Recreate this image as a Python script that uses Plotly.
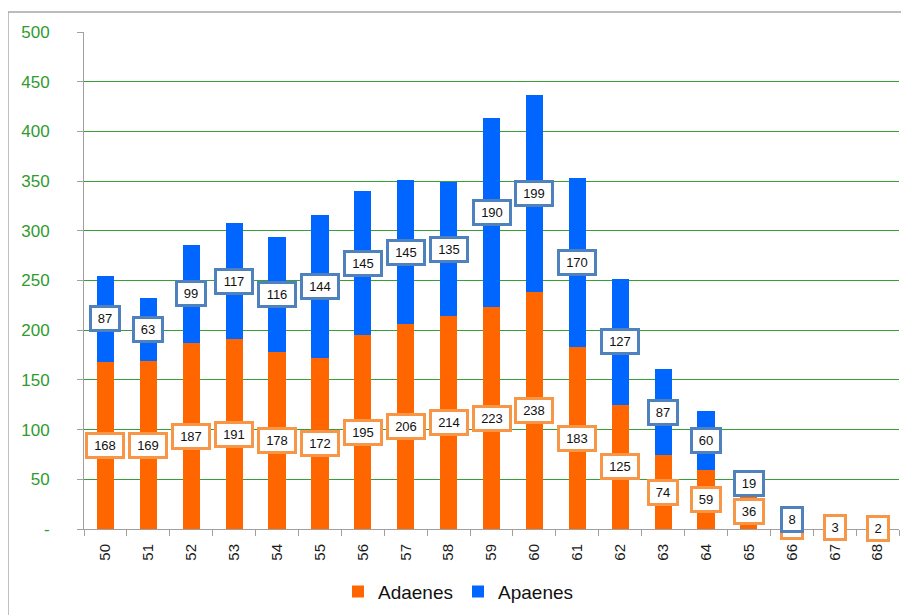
import plotly.graph_objects as go

categories = [str(c) for c in range(50, 69)]
adaenes = [168, 169, 187, 191, 178, 172, 195, 206, 214, 223, 238, 183, 125, 74, 59, 36, 6, 3, 2]
apaenes = [87, 63, 99, 117, 116, 144, 145, 145, 135, 190, 199, 170, 127, 87, 60, 19, 8, 0, 0]
ytick_vals = [0, 50, 100, 150, 200, 250, 300, 350, 400, 450, 500]
ytick_text = ["-", "50", "100", "150", "200", "250", "300", "350", "400", "450", "500"]

ORANGE = "#FF6600"
BLUE = "#0066FF"
ORANGE_BORDER = "#F79646"
BLUE_BORDER = "#4F81BD"
GREEN = "#2f9a2f"
FONT = "Liberation Sans"

fig = go.Figure()
fig.add_trace(go.Bar(x=categories, y=adaenes, name="Adaenes", marker_color=ORANGE,
                     marker_line_width=0))
fig.add_trace(go.Bar(x=categories, y=apaenes, name="Apaenes", marker_color=BLUE,
                     marker_line_width=0))

annotations = []
def box(i, y, val, border):
    n = len(str(val))
    return dict(x=i, y=y, text=str(val), showarrow=False, xref="x", yref="y",
                font=dict(family=FONT, size=13, color="#111111"),
                bgcolor="white", bordercolor=border, borderwidth=3, borderpad=2,
                width=8 * n + 6, height=17, align="center", valign="middle")

for i, a in enumerate(adaenes):
    if a > 0:
        annotations.append(box(i, a / 2, a, ORANGE_BORDER))
for i, (a, b) in enumerate(zip(adaenes, apaenes)):
    if b > 0:
        annotations.append(box(i, a + b / 2, b, BLUE_BORDER))

fig.update_layout(
    barmode="stack",
    bargap=0.6,
    width=909, height=615,
    margin=dict(l=76, r=18, t=24, b=94, autoexpand=False),
    paper_bgcolor="white", plot_bgcolor="white",
    font=dict(family=FONT),
    showlegend=True,
    legend=dict(orientation="h", x=0.4595, xanchor="center", y=-0.126, yanchor="middle",
                font=dict(family=FONT, size=19, color="#111111"),
                itemwidth=30, traceorder="normal"),
    annotations=annotations,
    shapes=[dict(type="rect", xref="paper", yref="paper", x0=-0.0933, y0=-0.5,
                 x1=1.2, y1=1.0402, line=dict(color="#A6A6A6", width=1.5),
                 fillcolor="rgba(0,0,0,0)", layer="below")],
)

fig.update_yaxes(range=[0, 500], tickvals=ytick_vals, ticktext=ytick_text,
                 showgrid=True, gridcolor="#36a036", gridwidth=1,
                 showline=True, linecolor="#A0A0A0", linewidth=1,
                 ticks="outside", ticklen=6, tickcolor="#A0A0A0",
                 tickfont=dict(family=FONT, size=17, color=GREEN),
                 ticklabelstandoff=24, zeroline=False)
fig.update_xaxes(type="category", range=[-0.5, len(categories) - 0.5],
                 tickangle=-90, showline=True, linecolor="#A0A0A0",
                 linewidth=1, ticks="outside", ticklen=6, tickcolor="#A0A0A0",
                 tickson="boundaries", showgrid=False, ticklabelstandoff=8,
                 tickfont=dict(family=FONT, size=15, color="#1a1a1a"))

fig.write_html("out.html")
